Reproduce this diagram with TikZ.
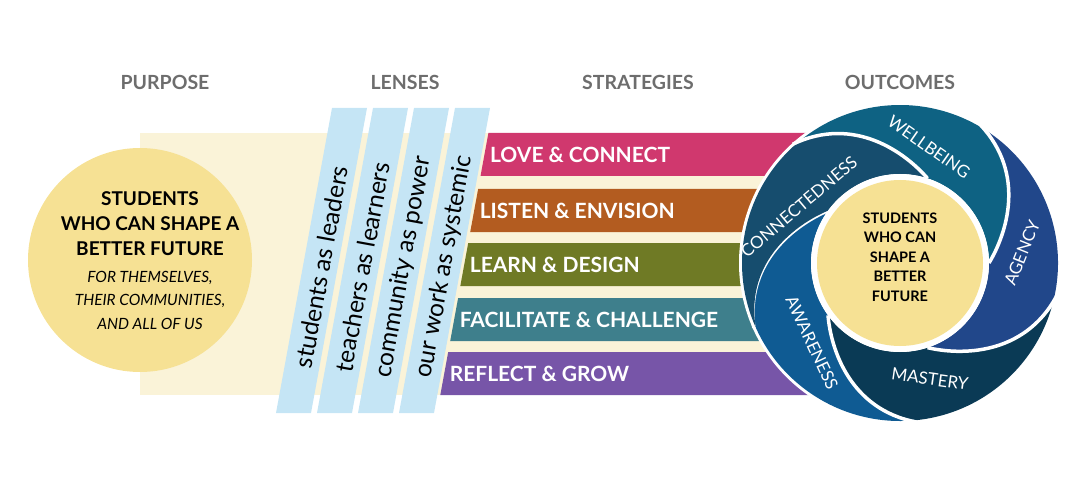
\documentclass[tikz,border=0pt]{standalone}
\usepackage{fontspec}
\setmainfont{Lato}
\usetikzlibrary{positioning,calc}
\definecolor{cream}{HTML}{FAF3D8}
\definecolor{sun}{HTML}{F6E194}
\definecolor{sky}{HTML}{C5E5F5}
\definecolor{heading}{HTML}{6D6D6D}
\definecolor{cWell}{HTML}{0E6283}
\definecolor{cAgency}{HTML}{21478A}
\definecolor{cMastery}{HTML}{0A3A55}
\definecolor{cAware}{HTML}{0F5B93}
\definecolor{cConn}{HTML}{164D6E}
\tikzset{
  heading/.style={font=\bfseries\fontsize{19.5}{22}\selectfont, text=heading},
  barlabel/.style={anchor=west, font=\bfseries\fontsize{21}{24}\selectfont, text=white},
  lenslabel/.style={rotate=79.6, font=\fontsize{24.5}{26}\selectfont},
  ringlabel/.style={font=\fontsize{17}{19}\selectfont, text=white},
}
\begin{document}
\begin{tikzpicture}[x=1pt,y=1pt]
\useasboundingbox (0,0) rectangle (1090,499);
% headings
\node[heading] (purpose) at (165,417) {PURPOSE};
\node[heading] (lenses) at (405,417) {LENSES};
\node[heading] (strategies) at (638,417) {STRATEGIES};
\node[heading] (outcomes) at (900,417) {OUTCOMES};
% pale band and purpose circle
\fill[cream] (140,104) rectangle (830,366);
\fill[sun] (140,239) circle (112);
\node[align=center, font=\bfseries\fontsize{19}{25}\selectfont] (purposetext) at (150,275)
  {STUDENTS\\WHO CAN SHAPE A\\BETTER FUTURE};
\node[align=center, font=\itshape\fontsize{15.5}{23.5}\selectfont, below=8pt of purposetext] (purposesub)
  {FOR THEMSELVES,\\THEIR COMMUNITIES,\\AND ALL OF US};
% strategies
\foreach \t/\c/\txt [count=\i] in {133/D0386E/LOVE \& CONNECT, 189/B35C20/LISTEN \& ENVISION,
    243/6F7A25/LEARN \& DESIGN, 298/3E7F8C/FACILITATE \& CHALLENGE, 352/7755A8/REFLECT \& GROW}{
  \definecolor{barcol}{HTML}{\c}
  \pgfmathsetmacro\xt{493-0.1836*(\t-108)}
  \pgfmathsetmacro\xb{493-0.1836*(\t+43-108)}
  \fill[barcol] (\xt,499-\t) -- (840,499-\t) -- (840,456-\t) -- (\xb,456-\t) -- cycle;
  \node[barlabel] (bar\i) at (\xb+6,477.5-\t) {\txt};
}
% lenses
\foreach \txt [count=\i from 0] in {students as leaders, teachers as learners, community as power, our work as systemic}{
  \pgfmathsetmacro\xa{332+41*\i}
  \fill[sky] (\xa,391) -- (\xa+35,391) -- (\xa-21,86) -- (\xa-56,86) -- cycle;
  \node[lenslabel] (lens\i) at (\xa-10.5,232) {\txt};
}
% outcomes wheel
\coordinate (hub) at (900,236);
\fill[white] (hub) circle (161);
\foreach \a/\c in {-156/cAware, -84/cMastery, -12/cAgency, 60/cWell, 132/cConn}{
  \fill[\c] ($(hub)+(\a:158)$) arc[start angle=\a, end angle=\a+72, radius=158]
    .. controls ($(hub)+(\a+47:155)$) and ($(hub)+(\a+27:110)$) .. ($(hub)+(\a+12:89)$)
    arc[start angle=\a+12, end angle=\a-60, radius=89]
    .. controls ($(hub)+(\a-45:110)$) and ($(hub)+(\a-25:155)$) .. cycle;
  \draw[white, line width=3.5pt] ($(hub)+(\a:160)$)
    .. controls ($(hub)+(\a-25:155)$) and ($(hub)+(\a-45:110)$) .. ($(hub)+(\a-60:89)$);
}
\fill[white] (hub) circle (89);
\fill[sun] (hub) circle (83);
\node[align=center, font=\bfseries\fontsize{14.5}{19.5}\selectfont] (core) at (900,242)
  {STUDENTS\\WHO CAN\\SHAPE A\\BETTER\\FUTURE};
\node[ringlabel, rotate=-35] (wellbeing) at (929,352) {WELLBEING};
\node[ringlabel, rotate=68] (agency) at (1022,246) {AGENCY};
\node[ringlabel, rotate=-8] (mastery) at (930,120) {MASTERY};
\node[ringlabel, rotate=-65] (awareness) at (812,156) {AWARENESS};
\node[ringlabel, rotate=40] (connectedness) at (799,292) {CONNECTEDNESS};
\end{tikzpicture}
\end{document}
